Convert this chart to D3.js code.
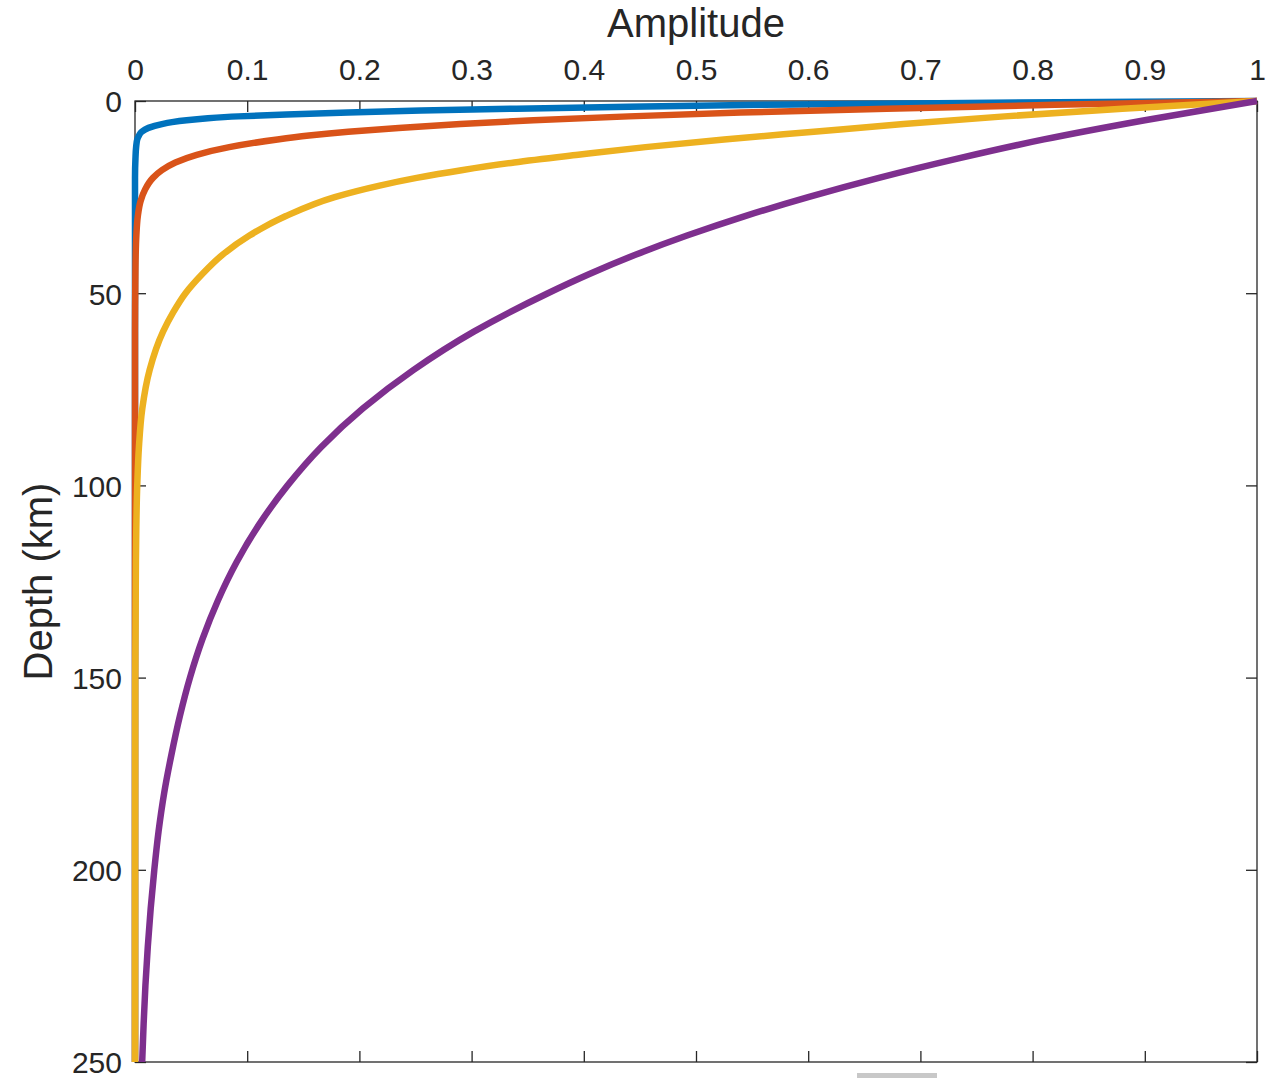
<!DOCTYPE html>
<html>
<head>
<meta charset="utf-8">
<script src="https://cdn.jsdelivr.net/npm/d3@7/dist/d3.min.js"></script>
<style>
  html, body { margin: 0; padding: 0; background: #ffffff; }
  svg { display: block; }
  text { font-family: "Liberation Sans", Arial, Helvetica, sans-serif; fill: #262626; }
</style>
</head>
<body>
<svg id="chart" width="1266" height="1078"></svg>
<script>
// ---- Data (depth in km, amplitude) ----
const xTicks = [0, 0.1, 0.2, 0.3, 0.4, 0.5, 0.6, 0.7, 0.8, 0.9, 1];
const xTickLabels = ["0", "0.1", "0.2", "0.3", "0.4", "0.5", "0.6", "0.7", "0.8", "0.9", "1"];
const yTicks = [0, 50, 100, 150, 200, 250];
const yTickLabels = ["0", "50", "100", "150", "200", "250"];

const seriesNames = ["blue", "red", "yellow", "purple"];
const seriesColors = ["#0072BD", "#D95319", "#EDB120", "#7E2F8E"];

const blueDepth = [0, 0.25, 0.5, 0.75, 1, 1.5, 2, 2.5, 3, 3.5, 4, 4.5, 5, 5.5, 6, 7, 8, 9, 10, 12, 15, 20, 250];
const blueAmp   = [1, 0.86, 0.74, 0.64, 0.56, 0.44, 0.34, 0.255, 0.19, 0.135, 0.092, 0.065, 0.046, 0.033, 0.024, 0.012, 0.006, 0.0035, 0.002, 0.001, 0.0004, 0, 0];

const redDepth = [0, 1, 2, 3, 4, 5, 6, 7, 8, 9, 10, 12, 14, 16, 18, 20, 23, 26, 30, 35, 40, 50, 60, 250];
const redAmp   = [1, 0.82, 0.67, 0.54, 0.44, 0.355, 0.29, 0.235, 0.19, 0.155, 0.127, 0.084, 0.055, 0.036, 0.024, 0.016, 0.009, 0.005, 0.0025, 0.0012, 0.0006, 0.0002, 0, 0];

const yellowDepth = [0, 2, 4, 6, 8, 10, 12, 14, 16, 18, 20, 22, 25, 30, 35, 40, 45, 50, 55, 60, 70, 80, 90, 100, 120, 150, 250];
const yellowAmp   = [1, 0.88, 0.775, 0.685, 0.605, 0.525, 0.455, 0.395, 0.338, 0.291, 0.251, 0.218, 0.178, 0.134, 0.102, 0.078, 0.060, 0.045, 0.034, 0.025, 0.013, 0.0065, 0.0035, 0.002, 0.0008, 0.0002, 0];

const purpleDepth = [0, 5, 10, 15, 20, 25, 30, 35, 40, 45, 50, 60, 70, 80, 90, 100, 110, 120, 130, 140, 150, 160, 170, 180, 190, 200, 210, 220, 230, 240, 250];
const purpleAmp   = [1, 0.90, 0.81, 0.733, 0.663, 0.600, 0.543, 0.492, 0.446, 0.405, 0.368, 0.302, 0.248, 0.203, 0.166, 0.136, 0.111, 0.0905, 0.0738, 0.0601, 0.049, 0.040, 0.0325, 0.026, 0.021, 0.0172, 0.014, 0.0114, 0.0093, 0.0077, 0.0064];

const depths = [blueDepth, redDepth, yellowDepth, purpleDepth];
const amps = [blueAmp, redAmp, yellowAmp, purpleAmp];

// ---- Layout ----
const plotLeft = 135, plotRight = 1257, plotTop = 101, plotBottom = 1062;
const svg = d3.select("#chart");

const x = d3.scaleLinear().domain([0, 1]).range([plotLeft, plotRight]);
const y = d3.scaleLinear().domain([0, 250]).range([plotTop, plotBottom]);

const axisColor = "#262626";
const tickLen = 11;

// Box
svg.append("rect")
  .attr("x", plotLeft).attr("y", plotTop)
  .attr("width", plotRight - plotLeft).attr("height", plotBottom - plotTop)
  .attr("fill", "none").attr("stroke", axisColor).attr("stroke-width", 1.3);

// Top axis (labels) - ticks inward
const topAxis = d3.axisTop(x).tickValues(xTicks).tickSize(-tickLen).tickPadding(tickLen + 10)
  .tickFormat((d, i) => xTickLabels[i]);
const gTop = svg.append("g").attr("transform", `translate(0,${plotTop})`).call(topAxis);

// Bottom axis - ticks inward, no labels
const bottomAxis = d3.axisBottom(x).tickValues(xTicks).tickSize(-tickLen).tickFormat("");
const gBottom = svg.append("g").attr("transform", `translate(0,${plotBottom})`).call(bottomAxis);

// Left axis (labels) - ticks inward
const leftAxis = d3.axisLeft(y).tickValues(yTicks).tickSize(-tickLen).tickPadding(tickLen + 2)
  .tickFormat((d, i) => yTickLabels[i]);
const gLeft = svg.append("g").attr("transform", `translate(${plotLeft},0)`).call(leftAxis);

// Right axis - ticks inward
const rightAxis = d3.axisRight(y).tickValues(yTicks).tickSize(-tickLen).tickFormat("");
const gRight = svg.append("g").attr("transform", `translate(${plotRight},0)`).call(rightAxis);

[gTop, gBottom, gLeft, gRight].forEach(g => {
  g.select(".domain").remove();
  g.selectAll(".tick line").attr("stroke", axisColor).attr("stroke-width", 1.3);
  g.selectAll(".tick text").style("font-size", "30px").attr("fill", axisColor);
});
gTop.selectAll(".tick text").attr("dy", "0");
gLeft.selectAll(".tick text").attr("dy", "0.36em");

// Curves
const line = d3.line()
  .x(d => x(d[1]))
  .y(d => y(d[0]))
  .curve(d3.curveMonotoneY);

seriesNames.forEach((name, i) => {
  const pts = depths[i].map((dv, j) => [dv, amps[i][j]]);
  svg.append("path")
    .datum(pts)
    .attr("class", "series " + name)
    .attr("d", line)
    .attr("fill", "none")
    .attr("stroke", seriesColors[i])
    .attr("stroke-width", 6.5)
    .attr("stroke-linejoin", "round")
    .attr("stroke-linecap", "butt");
});

// Axis titles
svg.append("text")
  .attr("x", (plotLeft + plotRight) / 2).attr("y", 37)
  .attr("text-anchor", "middle")
  .style("font-size", "40px")
  .text("Amplitude");

svg.append("text")
  .attr("transform", `translate(52,${(plotTop + plotBottom) / 2}) rotate(-90)`)
  .attr("text-anchor", "middle")
  .style("font-size", "40px")
  .text("Depth (km)");

// Small gray bar under the plot (as in the reference)
svg.append("rect")
  .attr("x", 857).attr("y", 1073).attr("width", 80).attr("height", 5)
  .attr("fill", "#c8c8c8");
</script>
</body>
</html>
